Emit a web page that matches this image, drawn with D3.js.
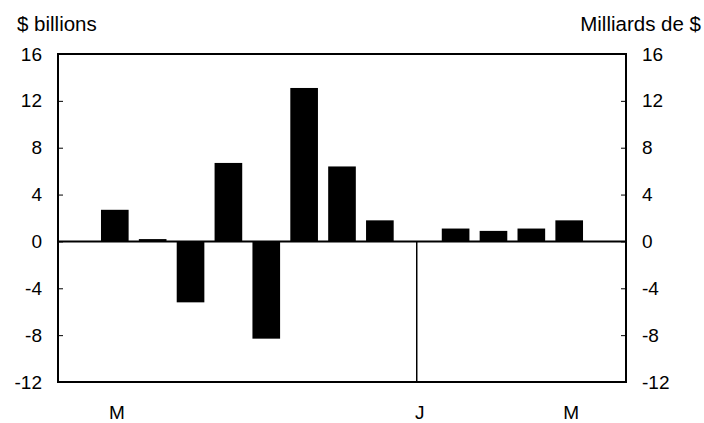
<!DOCTYPE html>
<html>
<head>
<meta charset="utf-8">
<script src="https://cdn.jsdelivr.net/npm/d3@7"></script>
<style>
  body { margin: 0; background: #fff; }
  text { font-family: "Liberation Sans", Arial, sans-serif; fill: #000; }
</style>
</head>
<body>
<script>
// 15 periods, only some have a bar; labels only on a few
var periods = d3.range(15);
var values = [null, 2.7, 0.2, -5.2, 6.7, -8.3, 13.1, 6.4, 1.8, null, 1.1, 0.9, 1.1, 1.8, null];
var xLabels = ["", "M", "", "", "", "", "", "", "", "J", "", "", "", "M", ""];
var yTicks = [-12, -8, -4, 0, 4, 8, 12, 16];
var breakAt = 9; // vertical separator below zero

var W = 704, H = 423;
// note: "top" is window.top, so use other names
var pLeft = 58, pRight = 626, pTop = 54, pBottom = 382;

var svg = d3.select("body").append("svg")
    .attr("width", W)
    .attr("height", H);

var x = d3.scaleBand()
    .domain(periods)
    .range([pLeft, pRight])
    .paddingInner(0.27)
    .paddingOuter(0.135);

var y = d3.scaleLinear()
    .domain([-12, 16])
    .range([pBottom, pTop]);

// bars
svg.selectAll("rect.bar")
  .data(periods.filter(function (d) { return values[d] != null; }))
  .enter()
  .append("rect")
  .attr("class", "bar")
  .attr("x", function (d) { return x(d); })
  .attr("width", x.bandwidth())
  .attr("y", function (d) { return y(Math.max(0, values[d])); })
  .attr("height", function (d) { return Math.abs(y(values[d]) - y(0)); })
  .attr("fill", "#000");

// axes (ticks pointing inside), plain hyphen for negatives
var fmt = function (d) { return String(d); };
var yl = svg.append("g")
    .attr("transform", "translate(" + pLeft + ",0)")
    .call(d3.axisLeft(y).tickValues(yTicks).tickFormat(fmt).tickSizeInner(-5).tickSizeOuter(0).tickPadding(16));
var yr = svg.append("g")
    .attr("transform", "translate(" + pRight + ",0)")
    .call(d3.axisRight(y).tickValues(yTicks).tickFormat(fmt).tickSizeInner(-5).tickSizeOuter(0).tickPadding(16));

[yl, yr].forEach(function (g) {
  g.select(".domain").remove();
  g.selectAll("text").style("font-size", "19px").attr("fill", "#000");
  g.selectAll("line").attr("stroke", "#000");
});

// zero line
svg.append("line")
  .attr("x1", pLeft).attr("x2", pRight)
  .attr("y1", y(0)).attr("y2", y(0))
  .attr("stroke", "#000").attr("stroke-width", 2);

// separator
svg.append("line")
  .attr("x1", x(breakAt) + x.bandwidth() / 2 - 1)
  .attr("x2", x(breakAt) + x.bandwidth() / 2 - 1)
  .attr("y1", y(0)).attr("y2", y(-12))
  .attr("stroke", "#000").attr("stroke-width", 1.5);

// frame
svg.append("rect")
  .attr("x", pLeft).attr("y", pTop)
  .attr("width", pRight - pLeft).attr("height", pBottom - pTop)
  .attr("fill", "none")
  .attr("stroke", "#000")
  .attr("stroke-width", 2);

// x labels
svg.selectAll("text.xl")
  .data(periods.filter(function (d) { return xLabels[d] !== ""; }))
  .enter()
  .append("text")
  .attr("class", "xl")
  .attr("x", function (d) { return x(d) + x.bandwidth() / 2 + 2; })
  .attr("y", 419)
  .attr("text-anchor", "middle")
  .style("font-size", "19px")
  .text(function (d) { return xLabels[d]; });

// unit titles
svg.append("text")
  .attr("x", 17).attr("y", 31)
  .style("font-size", "20.5px")
  .text("$ billions");

svg.append("text")
  .attr("x", 701).attr("y", 31)
  .attr("text-anchor", "end")
  .style("font-size", "20.5px")
  .text("Milliards de $");
</script>
</body>
</html>
